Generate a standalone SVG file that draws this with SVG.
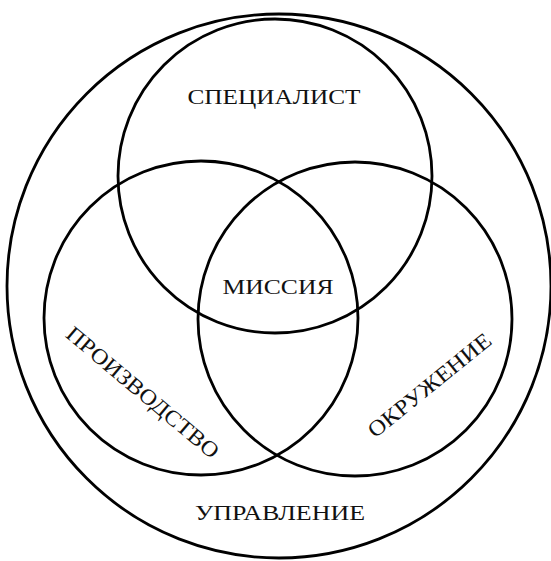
<svg xmlns="http://www.w3.org/2000/svg" width="551" height="561" viewBox="0 0 551 561">
<style>
circle{fill:none;stroke:#000;stroke-width:2.8}
text{font-family:"Liberation Serif","Times New Roman",serif;font-size:22px;fill:#111;text-anchor:middle}
</style>
<rect width="551" height="561" fill="#fff"/>
<g id="outer"><circle cx="279" cy="286" r="272"/><text x="280" y="520" textLength="170" lengthAdjust="spacingAndGlyphs">УПРАВЛЕНИЕ</text></g>
<g id="specialist"><circle cx="275" cy="176" r="157"/><text x="274" y="104" textLength="173" lengthAdjust="spacingAndGlyphs">СПЕЦИАЛИСТ</text></g>
<g id="production"><circle cx="201" cy="318" r="157"/><text transform="translate(138 398) rotate(40)" x="0" y="0" textLength="192" lengthAdjust="spacingAndGlyphs">ПРОИЗВОДСТВО</text></g>
<g id="environment"><circle cx="355" cy="319" r="157"/><text transform="translate(434 391) rotate(-39)" x="0" y="0" textLength="152" lengthAdjust="spacingAndGlyphs">ОКРУЖЕНИЕ</text></g>
<g id="mission"><text x="278" y="294" textLength="111" lengthAdjust="spacingAndGlyphs">МИССИЯ</text></g>
</svg>
